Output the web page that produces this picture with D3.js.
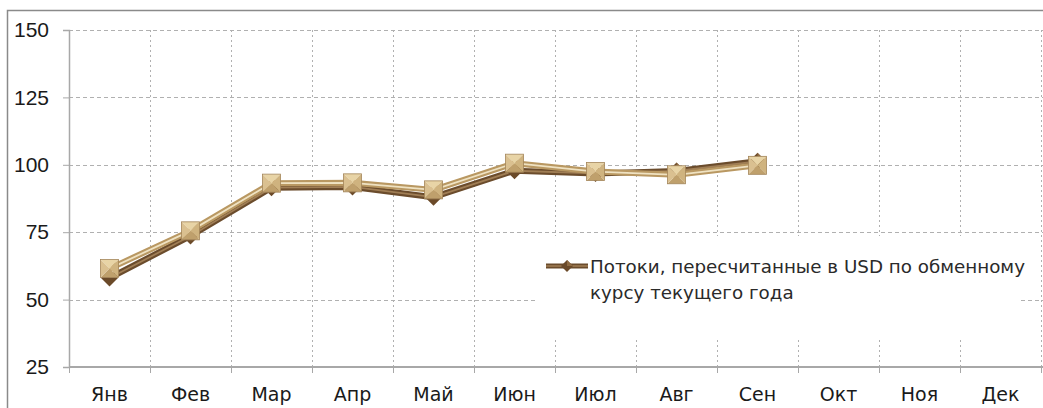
<!DOCTYPE html>
<html>
<head>
<meta charset="utf-8">
<script src="https://cdn.jsdelivr.net/npm/d3@7"></script>
<style>
  body { margin: 0; background: #fff; }
  svg { display: block; font-family: "DejaVu Sans", Verdana, sans-serif; }
</style>
</head>
<body>
<svg id="chart"></svg>
<script>
const width = 1043;
const height = 408;

// data
const months = ["Янв", "Фев", "Мар", "Апр", "Май", "Июн", "Июл", "Авг", "Сен", "Окт", "Ноя", "Дек"];
const usdFlows = [58, 73.6, 91.5, 91.8, 88, 97.8, 96.8, 97.7, 101.3];   // dark, diamonds (legend)
const otherFlows = [61.5, 75.5, 93.2, 93.3, 90.7, 100.6, 97.5, 96.3, 99.8]; // light, squares
const yTicks = [25, 50, 75, 100, 125, 150];
const legendLines = ["Потоки, пересчитанные в USD по обменному", "курсу текущего года"];

const svg = d3.select("#chart")
    .attr("width", width)
    .attr("height", height);

const margin = {left: 69, right: 2, top: 30, bottom: 41};

const x = d3.scaleBand()
    .domain(months)
    .range([margin.left, width - margin.right])
    .padding(0);

const y = d3.scaleLinear()
    .domain([25, 150])
    .range([height - margin.bottom, margin.top]);

// outer frame
svg.append("rect")
    .attr("x", 7.5).attr("y", 10.5)
    .attr("width", 1200).attr("height", 600)
    .attr("fill", "none")
    .attr("stroke", "#8a8a8a")
    .attr("stroke-width", 1.5);

// horizontal gridlines
svg.append("g")
    .selectAll("line")
    .data(yTicks.slice(1))
    .enter().append("line")
    .attr("x1", margin.left).attr("x2", width)
    .attr("y1", d => Math.round(y(d)) + 0.5)
    .attr("y2", d => Math.round(y(d)) + 0.5)
    .style("stroke", "#b0b0b0")
    .style("stroke-dasharray", "4,3");

// vertical gridlines at category boundaries
const bounds = months.slice(1).map(m => x(m)).concat([x(months[11]) + x.bandwidth()]);
svg.append("g")
    .selectAll("line")
    .data(bounds)
    .enter().append("line")
    .attr("x1", d => Math.round(d) + 0.5).attr("x2", d => Math.round(d) + 0.5)
    .attr("y1", y(150)).attr("y2", y(25))
    .style("stroke", "#b0b0b0")
    .style("stroke-dasharray", "2,3");

// legend box hides gridlines behind it
svg.append("rect")
    .attr("x", 535).attr("y", 236)
    .attr("width", 486).attr("height", 104)
    .attr("fill", "#fff");

// axes
const yAxis = d3.axisLeft(y).tickValues(yTicks).tickSize(6).tickPadding(14);
svg.append("g")
    .attr("transform", `translate(${margin.left},0)`)
    .call(yAxis)
    .call(g => g.select(".domain").attr("stroke", "#a8a8a8").attr("stroke-width", 1.5))
    .call(g => g.selectAll(".tick line").attr("stroke", "#a8a8a8"))
    .call(g => g.selectAll("text").attr("fill", "#1a1a1a").style("font-size", "21px"));

const xAxisG = svg.append("g")
    .attr("transform", `translate(0,${y(25)})`);
xAxisG.append("line")
    .attr("x1", margin.left).attr("x2", width)
    .attr("stroke", "#a8a8a8").attr("stroke-width", 2);
xAxisG.selectAll(".tk")
    .data([x(months[0])].concat(bounds))
    .enter().append("line")
    .attr("x1", d => Math.round(d) + 0.5).attr("x2", d => Math.round(d) + 0.5)
    .attr("y1", 0).attr("y2", 6)
    .attr("stroke", "#a8a8a8");
xAxisG.selectAll("text")
    .data(months)
    .enter().append("text")
    .attr("x", d => x(d) + x.bandwidth() / 2)
    .attr("y", 34)
    .attr("text-anchor", "middle")
    .attr("fill", "#1a1a1a")
    .style("font-size", "19px")
    .text(d => d);

const cx = i => x(months[i]) + x.bandwidth() / 2;
const line = d3.line().x((d, i) => cx(i)).y(d => y(d));

function drawSeries(values, outer, inner) {
    svg.append("path").attr("d", line(values))
        .attr("fill", "none").attr("stroke", outer).attr("stroke-width", 6)
        .attr("stroke-linejoin", "round");
    svg.append("path").attr("d", line(values))
        .attr("fill", "none").attr("stroke", inner).attr("stroke-width", 1.8)
        .attr("stroke-linejoin", "round");
}

function diamond(g, px, py, r) {
    g.append("path")
        .attr("d", `M${px},${py - r}L${px + r},${py}L${px},${py + r}L${px - r},${py}Z`)
        .attr("fill", "#6b4a29");
    g.append("path")
        .attr("d", `M${px},${py - r}L${px + r},${py}L${px},${py}Z`)
        .attr("fill", "#8f6b42");
}

function pyramid(g, px, py, s) {
    const a = px - s, b = px + s, t = py - s, u = py + s;
    const faces = [
        [[a, t], [b, t], [px, py], "#e8d4a6"],
        [[b, t], [b, u], [px, py], "#cfb37f"],
        [[b, u], [a, u], [px, py], "#bfa06c"],
        [[a, u], [a, t], [px, py], "#dac090"]
    ];
    faces.forEach(f => {
        g.append("path")
            .attr("d", `M${f[0][0]},${f[0][1]}L${f[1][0]},${f[1][1]}L${f[2][0]},${f[2][1]}Z`)
            .attr("fill", f[3]);
    });
    g.append("rect")
        .attr("x", a).attr("y", t).attr("width", 2 * s).attr("height", 2 * s)
        .attr("fill", "none").attr("stroke", "#a3855a").attr("stroke-width", 0.8);
}

// dark series underneath
drawSeries(usdFlows, "#6b4c2c", "#a07e55");
const dm = svg.append("g");
usdFlows.forEach((v, i) => diamond(dm, cx(i), y(v), 8.5));

// light series on top
drawSeries(otherFlows, "#b99862", "#efe2c2");
const sq = svg.append("g");
otherFlows.forEach((v, i) => pyramid(sq, cx(i), y(v), 9));

// legend
const lg = svg.append("g");
lg.append("line")
    .attr("x1", 546).attr("x2", 588).attr("y1", 266).attr("y2", 266)
    .attr("stroke", "#6b4c2c").attr("stroke-width", 5);
lg.append("line")
    .attr("x1", 546).attr("x2", 588).attr("y1", 266).attr("y2", 266)
    .attr("stroke", "#a07e55").attr("stroke-width", 1.5);
diamond(lg, 567, 266, 6);
lg.selectAll("text")
    .data(legendLines)
    .enter().append("text")
    .attr("x", 590)
    .attr("y", (d, i) => 273 + i * 26)
    .attr("fill", "#2a2a2a")
    .style("font-size", "18.3px")
    .text(d => d);
</script>
</body>
</html>
